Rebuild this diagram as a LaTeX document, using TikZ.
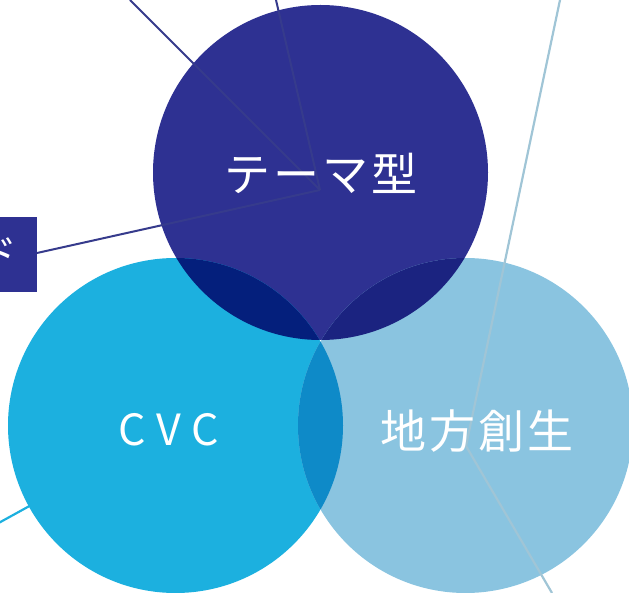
\documentclass[tikz,border=0pt]{standalone}
\usepackage{fontspec}
\newfontfamily\jp{Noto Sans CJK JP}
\newfontfamily\jpwide[LetterSpace=6.5]{Noto Sans CJK JP}
\newfontfamily\latwide[LetterSpace=25]{Noto Sans CJK JP}
\definecolor{cTop}{HTML}{2E3192}
\definecolor{cLeft}{HTML}{1CB0DF}
\definecolor{cRight}{HTML}{8AC4E0}
\definecolor{cTL}{HTML}{041F7C}
\definecolor{cTR}{HTML}{1B2380}
\definecolor{cLR}{HTML}{0E8AC8}
\definecolor{lTop}{HTML}{363B8C}
\definecolor{lRight}{HTML}{A0C5D6}
\tikzset{
  bubble/.style={circle, inner sep=0pt, minimum size=335pt, draw=none},
  label/.style={text=white, inner sep=0pt, font=\jpwide\fontsize{46}{46}\selectfont},
  topline/.style={draw=lTop, line width=2pt},
  rightline/.style={draw=lRight, line width=2.2pt},
  leftline/.style={draw=cLeft, line width=2.2pt},
}
\begin{document}
\begin{tikzpicture}[x=1pt,y=-1pt]
\useasboundingbox (0,0) rectangle (629,593);
% circles
\node[bubble, fill=cTop]   (top)   at (320.5,172.5) {};
\node[bubble, fill=cLeft]  (left)  at (175.5,425.5) {};
\node[bubble, fill=cRight] (right) at (465.5,425.5) {};
% overlaps
\begin{scope}
  \clip (320.5,172.5) circle (167.5);
  \fill[cTL] (175.5,425.5) circle (167.5);
\end{scope}
\begin{scope}
  \clip (320.5,172.5) circle (167.5);
  \fill[cTR] (465.5,425.5) circle (167.5);
\end{scope}
\begin{scope}
  \clip (175.5,425.5) circle (167.5);
  \fill[cLR] (465.5,425.5) circle (167.5);
\end{scope}
% hubs and free ends
\coordinate (hubT) at (320,190);
\coordinate (hubR) at (466,446);
\coordinate (hubL) at (175.5,425.5);
\coordinate (eA) at (130,0);
\coordinate (eB) at (276,0);
\coordinate (eC) at (560,0);
\coordinate (eD) at (552,593);
\coordinate (eE) at (-5,525);
% side box
\node[fill=cTop, minimum width=37pt, minimum height=75pt, inner sep=0pt, anchor=north west] (box) at (0,217) {};
\node[text=white, font=\jp\fontsize{40}{40}\selectfont, inner sep=0pt, anchor=east] (boxtext) at (18,254) {ド};
% connectors
\coordinate (bE) at (37,253);
\draw[topline] (eA) -- (hubT);
\draw[topline] (eB) -- (hubT);
\draw[topline] (bE) -- (hubT);
\draw[rightline] (eC) -- (hubR) -- (eD);
\draw[leftline] (eE) -- (hubL);
% labels
\node[label] (tTop) at (321,173) {テーマ型};
\node[label, font=\latwide\fontsize{43}{43}\selectfont] (tLeft) at (169,430) {CVC};
\node[label] (tRight) at (477,431) {地方創生};
\end{tikzpicture}
\end{document}
